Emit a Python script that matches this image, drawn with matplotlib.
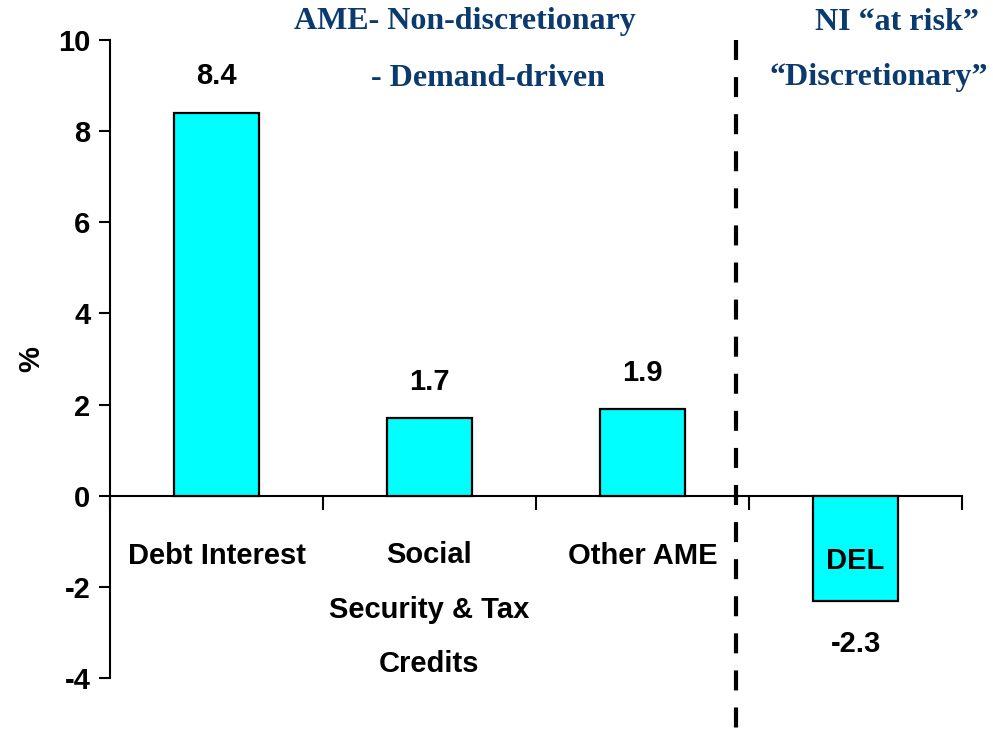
import matplotlib
matplotlib.use("Agg")
import matplotlib.pyplot as plt

# data
categories = ["Debt Interest", "Social\nSecurity & Tax\nCredits", "Other AME", "DEL"]
values = [8.4, 1.7, 1.9, -2.3]
value_labels = ["8.4", "1.7", "1.9", "-2.3"]
yticks = [-4, -2, 0, 2, 4, 6, 8, 10]

sans = ["Liberation Sans", "DejaVu Sans"]
serif = ["Liberation Serif", "DejaVu Serif"]
navy = "#0b3a6e"

fig = plt.figure(figsize=(9.93, 7.31), dpi=100)
W, H = 993, 731
ax = fig.add_axes([110 / W, (H - 678) / H, (962 - 110) / W, (678 - 40) / H])

x = list(range(len(categories)))
ax.bar(x, values, width=0.4, color="#00ffff", edgecolor="black", linewidth=1.6, zorder=3)

ax.set_xlim(-0.5, 3.5)
ax.set_ylim(-4, 10)
ax.set_yticks(yticks)
ax.set_yticklabels([str(t) for t in yticks], fontfamily=sans, fontweight="bold", fontsize=21)
ax.tick_params(axis="y", direction="out", length=8, width=1.5, pad=6)

ax.spines["top"].set_visible(False)
ax.spines["right"].set_visible(False)
ax.spines["bottom"].set_position(("data", 0))
ax.spines["left"].set_linewidth(1.5)
ax.spines["bottom"].set_linewidth(1.5)
ax.set_xticks([-0.5, 0.5, 1.5, 2.5, 3.5])
ax.set_xticklabels([])
ax.tick_params(axis="x", direction="out", length=10, width=1.5)

ax.set_ylabel("%", fontfamily=sans, fontweight="bold", fontsize=21)
ax.yaxis.set_label_coords(-0.076, 0.5)

# category labels
for i, lab in enumerate(categories):
    if i == 3:
        ax.text(i, -1.43, lab, ha="center", va="center",
                fontfamily=sans, fontweight="bold", fontsize=21)
    elif "\n" in lab:
        ax.text(i, -1.0, lab, ha="center", va="top",
                fontfamily=sans, fontweight="bold", fontsize=21, linespacing=2.2)
    else:
        ax.text(i, -1.32, lab, ha="center", va="center",
                fontfamily=sans, fontweight="bold", fontsize=21)

# value labels
for i, (v, lab) in enumerate(zip(values, value_labels)):
    yy = v + 0.8 if v > 0 else -3.25
    ax.text(i, yy, lab, ha="center", va="center",
            fontfamily=sans, fontweight="bold", fontsize=21)

# separator
ax.plot([2.44, 2.44], [10, -5.4], color="black", linewidth=3, dashes=(4.8, 4.1),
        clip_on=False, zorder=4)

# group headings
fig.text(465 / W, 1 - 22 / H, "AME- Non-discretionary", ha="center", va="center",
         fontfamily=serif, fontweight="bold", fontsize=23, color=navy)
fig.text(488 / W, 1 - 78 / H, "- Demand-driven", ha="center", va="center",
         fontfamily=serif, fontweight="bold", fontsize=23, color=navy)
fig.text(897 / W, 1 - 22 / H, "NI \u201cat risk\u201d", ha="center", va="center",
         fontfamily=serif, fontweight="bold", fontsize=23, color=navy)
fig.text(988 / W, 1 - 78 / H, "\u201cDiscretionary\u201d", ha="right", va="center",
         fontfamily=serif, fontweight="bold", fontsize=23, color=navy)

fig.savefig("out.png", dpi=100)
